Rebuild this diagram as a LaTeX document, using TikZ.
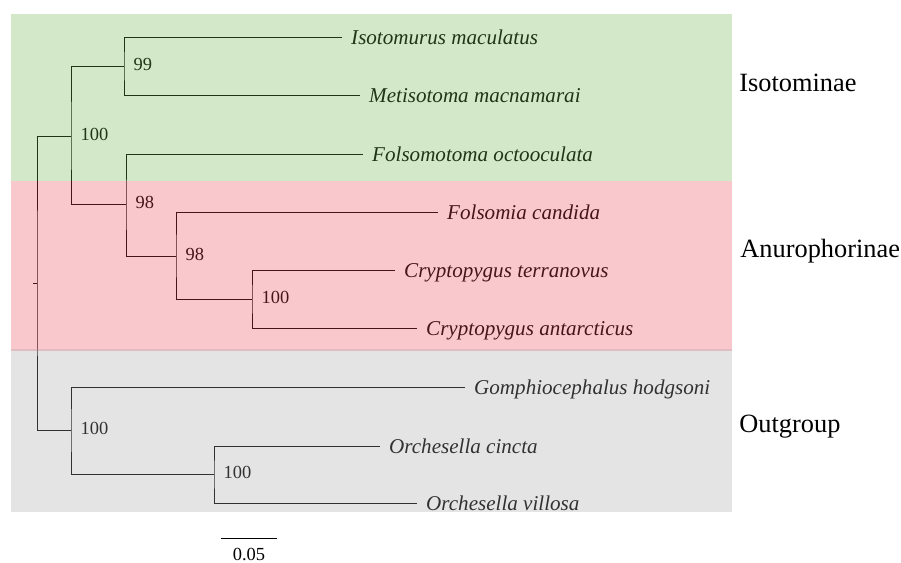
\documentclass[tikz,border=0pt]{standalone}
\usepackage{fontspec}
\setmainfont{Liberation Serif}
\usepackage{tikz}
\usetikzlibrary{positioning}

\definecolor{isogreen}{RGB}{108,178,72}
\definecolor{anupink}{RGB}{232,72,85}
\definecolor{outgrey}{RGB}{165,165,165}

\begin{document}
\begin{tikzpicture}[x=0.02cm, y=-0.02cm, line width=0.5pt]
        % Setup the styles for the labels and the clade bands
        \tikzset{taxon/.style={anchor=west,
                               inner xsep=5pt, inner ysep=0pt,
                               text height=10pt, text depth=1pt,
                               font=\fontsize{12}{14}\selectfont\itshape},
                 boot/.style={anchor=base west, inner sep=0pt,
                              xshift=5.2pt, yshift=-2.3pt,
                              font=\fontsize{10.5}{12}\selectfont},
                 clade/.style={anchor=base west, inner sep=0pt,
                               font=\fontsize{15}{18}\selectfont},
                 band/.style={draw=none, fill opacity=0.3}}
        \useasboundingbox (0,0) rectangle (901,562);

        % Inner nodes of the tree
        \coordinate (tick) at (33,283);
        \coordinate (root) at (37,283);
        \coordinate (nA)   at (71,136);
        \coordinate (nB)   at (124,66);
        \coordinate (nC)   at (126,204);
        \coordinate (nD)   at (176,256);
        \coordinate (nE)   at (252,299);
        \coordinate (nF)   at (71,430);
        \coordinate (nG)   at (214,474);

        % Draw the leaves
        \node[taxon] at (342,37)  (isomac) {Isotomurus maculatus};
        \node[taxon] at (360,95)  (metmac) {Metisotoma macnamarai};
        \node[taxon] at (363,154) (folsoc) {Folsomotoma octooculata};
        \node[taxon] at (438,212) (folcan) {Folsomia candida};
        \node[taxon] at (395,270) (cryter) {Cryptopygus terranovus};
        \node[taxon] at (417,328) (cryant) {Cryptopygus antarcticus};
        \node[taxon] at (465,387) (gomhod) {Gomphiocephalus hodgsoni};
        \node[taxon] at (380,446) (orccin) {Orchesella cincta};
        \node[taxon] at (417,503) (orcvil) {Orchesella villosa};

        % Connect the nodes with branches
        \draw (tick) -- (root);
        \draw (nA) -| (root) |- (nF);
        \draw (nB) -| (nA) |- (nC);
        \draw (isomac.west) -| (nB) |- (metmac.west);
        \draw (folsoc.west) -| (nC) |- (nD);
        \draw (folcan.west) -| (nD) |- (nE);
        \draw (cryter.west) -| (nE) |- (cryant.west);
        \draw (gomhod.west) -| (nF) |- (nG);
        \draw (orccin.west) -| (nG) |- (orcvil.west);

        % Bootstrap values
        \node[boot] at (nA) (bsA) {100};
        \node[boot] at (nB) (bsB) {99};
        \node[boot] at (nC) (bsC) {98};
        \node[boot] at (nD) (bsD) {98};
        \node[boot] at (nE) (bsE) {100};
        \node[boot] at (nF) (bsF) {100};
        \node[boot] at (nG) (bsG) {100};

        % Clade bands over the tree
        \fill[band, isogreen] (11,14)  rectangle (732,181);
        \fill[band, anupink]  (11,181) rectangle (732,351);
        \fill[band, outgrey]  (11,349) rectangle (732,512);

        % Clade names
        \node[clade] at (739,91)  (isolab) {Isotominae};
        \node[clade] at (740,257) (anulab) {Anurophorinae};
        \node[clade] at (739,432) (outlab) {Outgroup};

        % Scale bar
        \coordinate (sbl) at (221,538);
        \coordinate (sbr) at (277,538);
        \draw (sbl) -- (sbr);
        \node[anchor=base, inner sep=0pt, font=\fontsize{10.5}{12}\selectfont]
            at (249,560) (sblab) {0.05};
\end{tikzpicture}
\end{document}
